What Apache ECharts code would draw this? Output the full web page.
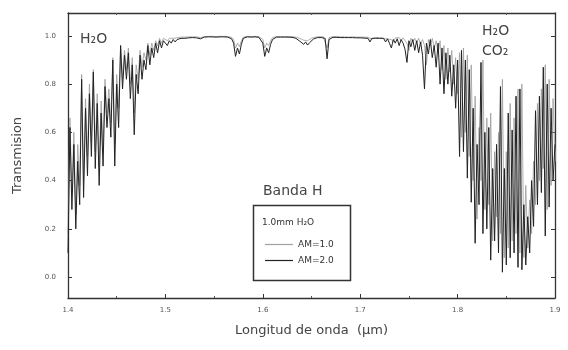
<!DOCTYPE html>
<html>
<head>
<meta charset="utf-8">
<script src="https://cdn.jsdelivr.net/npm/echarts@6/dist/echarts.min.js"></script>
<style>
  html, body { margin: 0; padding: 0; background: #fff; }
  #chart { width: 568px; height: 350px; }
</style>
</head>
<body>
<div id="chart"></div>
<script>
// Atmospheric transmission in the H band, sampled every 0.002 µm from 1.400 to 1.900 µm.
const waveStart = 1.400;
const waveStep = 0.002;

// AM = 1.0 (grey trace), 1.0 mm precipitable H2O
const am1Left = [
  0.18, 0.66, 0.35, 0.60, 0.26, 0.55, 0.38, 0.84, 0.40, 0.74,
  0.50, 0.80, 0.56, 0.86, 0.52, 0.76, 0.46, 0.73, 0.54, 0.82,
  0.68, 0.78, 0.64, 0.91, 0.55, 0.84, 0.70, 0.96, 0.82, 0.94,
  0.86, 0.95, 0.80, 0.91, 0.68, 0.88, 0.82, 0.94, 0.87, 0.93,
  0.90, 0.97, 0.92, 0.97, 0.94, 0.98, 0.96, 0.99, 0.97, 0.99,
  0.985
];
const am1Mid = [
  0.98, 0.99, 0.985, 0.99, 0.988, 0.992, 0.99, 0.995, 0.992, 0.995,
  0.995, 0.996, 0.995, 0.996, 0.995, 0.996, 0.99, 0.993, 0.996, 0.997,
  0.997, 0.998, 0.997, 0.998, 0.998, 0.997, 0.998, 0.998, 0.997, 0.998,
  0.997, 0.997, 0.996, 0.994, 0.985, 0.95, 0.97, 0.955, 0.98, 0.995,
  0.997, 0.998, 0.998, 0.997, 0.998, 0.998, 0.997, 0.997, 0.994, 0.985,
  0.95, 0.97, 0.96, 0.98, 0.993, 0.996, 0.997, 0.998, 0.997, 0.998,
  0.997, 0.997, 0.997, 0.996, 0.997, 0.996, 0.995, 0.993, 0.99, 0.985,
  0.982, 0.987, 0.98, 0.986, 0.99, 0.993, 0.995, 0.996, 0.997, 0.996,
  0.997, 0.995, 0.95, 0.993, 0.996, 0.997, 0.996, 0.997, 0.996, 0.996,
  0.996, 0.996, 0.996, 0.995, 0.996, 0.996, 0.996, 0.995, 0.996, 0.995,
  0.996, 0.995, 0.995, 0.994, 0.995, 0.987, 0.995, 0.994, 0.995, 0.992,
  0.995, 0.99, 0.994, 0.987, 0.993, 0.985, 0.975, 0.992, 0.985, 0.993,
  0.98, 0.992, 0.985, 0.97, 0.94, 0.99, 0.975, 0.99, 0.97, 0.99,
  0.965, 0.985, 0.96, 0.88, 0.985, 0.96, 0.99, 0.95, 0.98, 0.93
];
const am1Right = [
  0.98, 0.86, 0.96, 0.82, 0.95, 0.85, 0.94, 0.80, 0.91, 0.76,
  0.93, 0.58, 0.95, 0.60, 0.92, 0.50, 0.88, 0.40, 0.75, 0.24,
  0.62, 0.40, 0.90, 0.28, 0.66, 0.30, 0.68, 0.15, 0.52, 0.25,
  0.60, 0.18, 0.82, 0.08, 0.52, 0.12, 0.72, 0.15, 0.66, 0.18,
  0.78, 0.10, 0.80, 0.08, 0.38, 0.12, 0.32, 0.18, 0.48, 0.30,
  0.72, 0.40, 0.78, 0.45, 0.88, 0.28, 0.82, 0.38, 0.74, 0.48,
  0.60
];

// AM = 2.0 (black trace), 1.0 mm precipitable H2O
const am2Left = [
  0.10, 0.62, 0.28, 0.55, 0.20, 0.48, 0.30, 0.82, 0.33, 0.70,
  0.42, 0.76, 0.50, 0.85, 0.45, 0.72, 0.38, 0.68, 0.46, 0.79,
  0.62, 0.74, 0.58, 0.90, 0.46, 0.80, 0.62, 0.96, 0.78, 0.92,
  0.82, 0.93, 0.74, 0.88, 0.59, 0.84, 0.76, 0.92, 0.82, 0.90,
  0.86, 0.96, 0.88, 0.95, 0.91, 0.97, 0.93, 0.98, 0.95, 0.98,
  0.97
];
const am2Mid = [
  0.96, 0.98, 0.97, 0.985, 0.975, 0.985, 0.98, 0.99, 0.985, 0.99,
  0.99, 0.992, 0.99, 0.993, 0.99, 0.992, 0.984, 0.988, 0.993, 0.995,
  0.995, 0.996, 0.995, 0.996, 0.996, 0.995, 0.996, 0.996, 0.995, 0.996,
  0.995, 0.995, 0.993, 0.988, 0.97, 0.915, 0.95, 0.925, 0.965, 0.99,
  0.994, 0.996, 0.996, 0.995, 0.996, 0.996, 0.995, 0.994, 0.988, 0.97,
  0.915, 0.95, 0.93, 0.965, 0.985, 0.993, 0.995, 0.996, 0.995, 0.996,
  0.995, 0.994, 0.995, 0.993, 0.994, 0.992, 0.99, 0.986, 0.978, 0.97,
  0.965, 0.975, 0.962, 0.972, 0.98, 0.987, 0.99, 0.993, 0.994, 0.993,
  0.994, 0.99, 0.905, 0.985, 0.993, 0.994, 0.993, 0.994, 0.992, 0.993,
  0.992, 0.993, 0.991, 0.993, 0.992, 0.993, 0.99, 0.992, 0.991, 0.992,
  0.99, 0.991, 0.988, 0.99, 0.975, 0.99, 0.988, 0.99, 0.985, 0.99,
  0.982, 0.99, 0.975, 0.988, 0.97, 0.95, 0.985, 0.97, 0.988, 0.96,
  0.985, 0.97, 0.945, 0.89, 0.98, 0.955, 0.985, 0.94, 0.98, 0.93,
  0.975, 0.92, 0.78, 0.97, 0.925, 0.985, 0.91, 0.96, 0.87
];
const am2Right = [
  0.97, 0.80, 0.95, 0.76, 0.93, 0.80, 0.92, 0.75, 0.88, 0.70,
  0.90, 0.50, 0.94, 0.52, 0.90, 0.41, 0.86, 0.31, 0.70, 0.14,
  0.55, 0.30, 0.89, 0.18, 0.60, 0.20, 0.62, 0.07, 0.45, 0.15,
  0.55, 0.10, 0.79, 0.02, 0.45, 0.05, 0.68, 0.08, 0.61, 0.10,
  0.75, 0.04, 0.78, 0.03, 0.30, 0.05, 0.25, 0.10, 0.40, 0.21,
  0.69, 0.30, 0.75, 0.35, 0.87, 0.17, 0.80, 0.29, 0.70, 0.40,
  0.55
];

// Axis ticks and labels
const xTicks = [1.4, 1.5, 1.6, 1.7, 1.8, 1.9];
const yTicks = [0.0, 0.2, 0.4, 0.6, 0.8, 1.0];

const labels = {
  yTitle: 'Transmision',
  xTitle: 'Longitud de onda  (\u00b5m)',
  band: 'Banda H',
  column: '1.0mm H\u2082O',
  am1: 'AM=1.0',
  am2: 'AM=2.0',
  leftBand: 'H\u2082O',
  rightBand1: 'H\u2082O',
  rightBand2: 'CO\u2082'
};

function pairs(values) {
  return values.map((v, i) => [+(waveStart + i * waveStep).toFixed(3), v]);
}
const am1 = am1Left.concat(am1Mid, am1Right);
const am2 = am2Left.concat(am2Mid, am2Right);

const FONT = 'DejaVu Sans';
const yMin = -0.087, yMax = 1.095;

const chart = echarts.init(document.getElementById('chart'), null, { renderer: 'canvas' });

const frameLine = { show: true, onZero: false, lineStyle: { color: '#333', width: 1.3 } };

chart.setOption({
  backgroundColor: '#fff',
  animation: false,
  grid: { left: 68, right: 13, top: 13, bottom: 52 },
  xAxis: [
    {
      type: 'value', min: 1.4, max: 1.9, interval: 0.1,
      axisLine: frameLine,
      axisTick: { inside: true, length: 4, lineStyle: { color: '#333' } },
      minorTick: { show: true, splitNumber: 2, length: 2, lineStyle: { color: '#555' } },
      splitLine: { show: false },
      axisLabel: {
        color: '#555', fontSize: 7, fontFamily: FONT, margin: 9,
        formatter: v => xTicks.some(t => Math.abs(t - v) < 1e-6) ? v.toFixed(1) : ''
      },
      name: labels.xTitle, nameLocation: 'middle', nameGap: 26,
      nameTextStyle: { color: '#444', fontSize: 13, fontFamily: FONT }
    },
    {
      type: 'value', position: 'top', min: 1.4, max: 1.9, interval: 0.1,
      axisLine: frameLine,
      axisTick: { inside: true, length: 4, lineStyle: { color: '#333' } },
      minorTick: { show: true, splitNumber: 2, length: 2, lineStyle: { color: '#555' } },
      splitLine: { show: false },
      axisLabel: { show: false }
    }
  ],
  yAxis: [
    {
      type: 'value', min: yMin, max: yMax,
      axisLine: frameLine,
      axisTick: { inside: true, length: 4, customValues: yTicks, lineStyle: { color: '#333' } },
      splitLine: { show: false },
      axisLabel: {
        customValues: yTicks, color: '#555', fontSize: 7, fontFamily: FONT, margin: 12,
        formatter: v => v.toFixed(1)
      },
      name: labels.yTitle, nameLocation: 'middle', nameGap: 44, nameRotate: 90,
      nameTextStyle: { color: '#444', fontSize: 13, fontFamily: FONT }
    },
    {
      type: 'value', position: 'right', min: yMin, max: yMax,
      axisLine: frameLine,
      axisTick: { inside: true, length: 4, customValues: yTicks, lineStyle: { color: '#333' } },
      splitLine: { show: false },
      axisLabel: { show: false }
    }
  ],
  legend: {
    orient: 'vertical', left: 260, top: 235,
    itemWidth: 28, itemHeight: 1.2, itemGap: 7,
    icon: 'rect',
    data: [
      { name: labels.am1, itemStyle: { color: '#a0a0a0' } },
      { name: labels.am2, itemStyle: { color: '#222' } }
    ],
    textStyle: { color: '#333', fontSize: 9, fontFamily: FONT }
  },
  series: [
    {
      name: labels.am1, type: 'line', xAxisIndex: 0, yAxisIndex: 0,
      data: pairs(am1), showSymbol: false, symbol: 'none',
      lineStyle: { color: '#9a9a9a', width: 0.8 }, z: 2
    },
    {
      name: labels.am2, type: 'line', xAxisIndex: 0, yAxisIndex: 0,
      data: pairs(am2), showSymbol: false, symbol: 'none',
      lineStyle: { color: '#222', width: 1 }, z: 3
    }
  ],
  graphic: [
    { type: 'text', left: 80, top: 32, style: { text: labels.leftBand, fill: '#444', font: '14px "' + FONT + '"' } },
    { type: 'text', left: 482, top: 24, style: { text: labels.rightBand1, fill: '#444', font: '14px "' + FONT + '"' } },
    { type: 'text', left: 482, top: 44, style: { text: labels.rightBand2, fill: '#444', font: '14px "' + FONT + '"' } },
    { type: 'text', left: 263, top: 184, style: { text: labels.band, fill: '#444', font: '14px "' + FONT + '"' } },
    { type: 'rect', left: 251, top: 203, shape: { width: 97, height: 75 }, style: { fill: 'none', stroke: '#333', lineWidth: 1.5 } },
    { type: 'text', left: 262, top: 218, style: { text: labels.column, fill: '#333', font: '9px "' + FONT + '"' } }
  ]
});
</script>
</body>
</html>
